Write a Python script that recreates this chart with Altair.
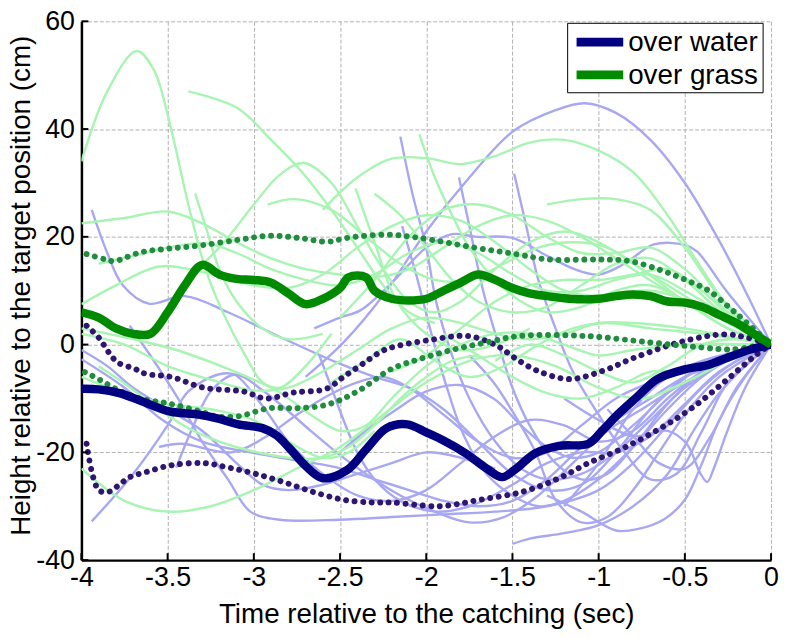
import altair as alt
import pandas as pd

# ---------------- data ----------------
# thick mean lines
water_mean_t = [-4.0, -3.9, -3.78, -3.65, -3.49, -3.32, -3.2, -3.09, -2.95, -2.87, -2.8, -2.7, -2.6, -2.46, -2.35, -2.23, -2.11, -2.0, -1.9, -1.77, -1.65, -1.56, -1.47, -1.37, -1.23, -1.06, -0.98, -0.89, -0.78, -0.66, -0.5, -0.37, -0.25, -0.12, 0.0]
water_mean_v = [-8.2, -8.3, -9.0, -10.5, -12.4, -13.0, -13.8, -14.8, -15.5, -16.8, -19.0, -22.5, -24.8, -23.3, -19.5, -15.5, -14.8, -16.3, -17.8, -20.2, -23.0, -24.6, -22.8, -20.2, -18.8, -18.4, -16.0, -13.0, -9.8, -6.4, -4.6, -3.8, -2.4, -0.9, 0.0]
grass_mean_t = [-4.0, -3.9, -3.8, -3.7, -3.6, -3.5, -3.4, -3.3, -3.2, -3.1, -3.0, -2.9, -2.8, -2.7, -2.6, -2.5, -2.45, -2.35, -2.3, -2.2, -2.1, -2.0, -1.9, -1.8, -1.7, -1.6, -1.5, -1.4, -1.3, -1.2, -1.1, -1.0, -0.9, -0.8, -0.7, -0.6, -0.5, -0.4, -0.3, -0.2, -0.1, 0.0]
grass_mean_v = [6.0, 5.0, 3.0, 2.0, 2.0, 6.0, 11.0, 14.8, 13.0, 12.2, 12.0, 11.5, 9.5, 7.5, 8.5, 10.5, 12.5, 12.5, 10.0, 8.5, 8.2, 8.5, 10.0, 11.5, 13.0, 12.0, 10.5, 9.5, 9.0, 8.6, 8.4, 8.5, 9.0, 9.3, 9.0, 8.0, 7.8, 7.0, 5.5, 4.0, 2.0, 0.0]

# dotted (mean +/- sd) lines
water_hi_t = [-3.97, -3.9, -3.84, -3.79, -3.69, -3.63, -3.48, -3.29, -3.06, -2.93, -2.77, -2.58, -2.48, -2.37, -2.25, -2.16, -1.97, -1.76, -1.59, -1.49, -1.36, -1.17, -0.97, -0.79, -0.5, -0.27, -0.14, 0.0]
water_hi_v = [3.5, 1.3, -1.5, -3.3, -4.5, -5.4, -6.0, -8.0, -8.7, -10.0, -8.9, -8.2, -6.0, -3.6, -1.1, -0.2, 0.9, 1.6, -0.2, -2.4, -4.8, -6.4, -4.8, -2.4, 0.7, 1.9, 1.3, 0.0]
water_lo_t = [-3.97, -3.9, -3.84, -3.78, -3.72, -3.63, -3.48, -3.29, -3.15, -3.0, -2.83, -2.66, -2.48, -2.31, -2.2, -1.92, -1.69, -1.44, -1.23, -1.06, -0.85, -0.64, -0.46, -0.27, -0.09, 0.0]
water_lo_v = [-18.4, -27.0, -27.3, -26.0, -24.6, -23.7, -22.4, -22.0, -22.8, -23.9, -25.5, -27.3, -28.8, -29.3, -29.3, -30.0, -28.8, -27.3, -24.8, -22.0, -19.1, -15.5, -11.8, -6.9, -2.0, 0.0]
grass_hi_t = [-3.97, -3.86, -3.81, -3.66, -3.5, -3.31, -3.08, -2.91, -2.74, -2.57, -2.46, -2.23, -2.04, -1.72, -1.48, -1.29, -0.98, -0.82, -0.63, -0.48, -0.36, -0.25, -0.16, 0.0]
grass_hi_v = [16.8, 15.8, 15.5, 17.1, 17.8, 18.4, 19.5, 20.2, 19.8, 19.1, 19.8, 20.4, 19.8, 18.0, 16.8, 15.8, 15.8, 15.5, 13.7, 11.8, 10.0, 7.1, 4.6, 0.0]
grass_lo_t = [-3.98, -3.89, -3.8, -3.66, -3.5, -3.31, -3.22, -3.09, -2.91, -2.74, -2.57, -2.4, -2.2, -2.04, -1.84, -1.65, -1.46, -1.08, -0.7, -0.41, -0.22, -0.08, 0.0]
grass_lo_v = [-5.1, -6.6, -8.2, -10.0, -10.9, -12.4, -13.3, -13.3, -11.8, -11.8, -11.1, -8.7, -4.5, -2.7, -0.9, 0.4, 1.6, 1.6, 0.4, -0.5, -0.9, -0.2, 0.0]

# individual flights over water (light blue), each a list of (time, height)
w01 = [(-2.7, -6), (-2.48, 0.4), (-2.23, 10), (-2.0, 21), (-1.75, 31), (-1.5, 39.5), (-1.25, 43.5), (-1.08, 44.8), (-0.9, 43), (-0.7, 38), (-0.5, 30), (-0.31, 19.8), (-0.15, 10), (0, 0)]
w02 = [(-2.65, 3), (-2.5, 5), (-2.38, 6.4), (-2.19, 11.8), (-2.0, 18), (-1.85, 20.5), (-1.71, 20), (-1.5, 19.8), (-1.3, 16.5), (-1.14, 14), (-1.0, 13), (-0.85, 15), (-0.68, 18.6), (-0.5, 18.5), (-0.43, 17.3), (-0.26, 10), (0, 0)]
w03 = [(-3.94, 25), (-3.85, 17), (-3.76, 11), (-3.61, 7.6), (-3.4, 9), (-3.15, 6), (-2.86, 1.6), (-2.52, -3.3), (-2.3, -6), (-2.1, -8), (-1.9, -12), (-1.7, -18), (-1.5, -24), (-1.3, -27), (-1.1, -26), (-0.9, -20), (-0.7, -12), (-0.5, -6), (-0.25, -2), (0, 0)]
w04 = [(-3.94, -32.8), (-3.7, -24), (-3.5, -15), (-3.38, -8.7), (-3.2, -5.5), (-3.11, -5.6), (-2.94, -11.8), (-2.8, -18), (-2.6, -24), (-2.4, -28), (-2.2, -29), (-2.0, -27), (-1.8, -22), (-1.6, -17), (-1.4, -14), (-1.2, -15), (-1.0, -18), (-0.8, -16), (-0.6, -10), (-0.4, -5), (-0.2, -2), (0, 0)]
w05 = [(-4, -2.7), (-3.75, -8), (-3.53, -14), (-3.3, -18), (-3.02, -20), (-2.75, -21.5), (-2.52, -22.8), (-2.3, -25), (-2.1, -27), (-1.9, -29), (-1.7, -30), (-1.5, -29), (-1.3, -25), (-1.1, -19), (-0.9, -14), (-0.7, -10), (-0.5, -6), (-0.25, -3), (0, 0)]
w06 = [(-3.72, 3.5), (-3.58, -3), (-3.44, -10), (-3.3, -18), (-3.15, -25), (-3.02, -31), (-2.85, -32.5), (-2.5, -32.5), (-2.2, -32), (-1.9, -31.5), (-1.6, -31), (-1.3, -30), (-1.0, -27), (-0.8, -22), (-0.6, -15), (-0.4, -8), (-0.2, -3), (0, 0)]
w07 = [(-3.55, -19), (-3.42, -18.4), (-3.13, -20), (-2.94, -17.3), (-2.75, -13), (-2.56, -9.3), (-2.4, -7), (-2.25, -6), (-2.1, -8), (-1.9, -13), (-1.7, -18), (-1.5, -21), (-1.3, -20), (-1.1, -15), (-0.9, -10), (-0.7, -7), (-0.4, -3), (0, 0)]
w08 = [(-3.45, -22.8), (-3.35, -15), (-3.25, -8.7), (-3.11, -5.6), (-2.94, -8.7), (-2.67, -16), (-2.52, -20), (-2.35, -24), (-2.15, -28), (-1.95, -31), (-1.75, -33), (-1.55, -32), (-1.35, -28), (-1.15, -22), (-0.95, -16), (-0.75, -12), (-0.5, -7), (-0.25, -3), (0, 0)]
w09 = [(-4, -1), (-3.85, -4), (-3.7, -8), (-3.5, -12), (-3.3, -16), (-3.1, -22), (-2.95, -26), (-2.8, -27), (-2.6, -26), (-2.4, -24), (-2.2, -22), (-2.0, -20), (-1.8, -21), (-1.6, -23)]
w10 = [(-2.15, 38.6), (-2.08, 28), (-2.0, 18), (-1.94, 7.6), (-1.85, -2), (-1.75, -10), (-1.6, -18), (-1.45, -23), (-1.3, -25), (-1.1, -24), (-0.9, -20), (-0.7, -14), (-0.5, -8), (-0.25, -3), (0, 0)]
w11 = [(-1.81, 31), (-1.75, 22), (-1.67, 10), (-1.58, 0), (-1.5, -8), (-1.4, -15), (-1.25, -22), (-1.1, -25), (-0.95, -24), (-0.8, -19), (-0.6, -11), (-0.4, -5), (-0.2, -2), (0, 0)]
w12 = [(-1.49, 31.7), (-1.42, 22), (-1.35, 12), (-1.25, 3), (-1.15, -5), (-1.0, -13), (-0.85, -20), (-0.7, -25), (-0.55, -24), (-0.4, -16), (-0.25, -7), (0, 0)]
w13 = [(-2.14, 22), (-2.05, 12), (-1.97, 2), (-1.88, -8), (-1.78, -17), (-1.65, -24), (-1.5, -28), (-1.35, -30), (-1.2, -29), (-1.0, -25), (-0.8, -19), (-0.6, -12), (-0.4, -6), (-0.2, -2), (0, 0)]
w14 = [(-1.5, -37), (-1.4, -36), (-1.2, -35), (-1.0, -33.5), (-0.8, -30), (-0.6, -24), (-0.45, -16), (-0.3, -9), (-0.15, -4), (0, 0)]
w15 = [(-1.3, -28), (-1.1, -31), (-0.9, -34.5), (-0.77, -34.2), (-0.62, -32.4), (-0.5, -28.8), (-0.4, -22), (-0.3, -14), (-0.15, -6), (0, 0)]
w16 = [(-1.2, -10), (-1.0, -14), (-0.8, -17), (-0.6, -16), (-0.49, -18.4), (-0.41, -23.9), (-0.37, -25.5), (-0.33, -22.8), (-0.26, -16.6), (-0.15, -8), (0, 0)]
w17 = [(-1.75, -2), (-1.61, -7), (-1.5, -12.4), (-1.37, -19.7), (-1.25, -28.8), (-1.1, -33), (-0.95, -32), (-0.8, -27), (-0.65, -20), (-0.5, -13), (-0.3, -6), (0, 0)]
w18 = [(-2.5, -20), (-2.35, -16), (-2.19, -12.4), (-2.0, -8.7), (-1.81, -7.5), (-1.61, -10), (-1.45, -15), (-1.3, -19), (-1.15, -21), (-1.0, -20), (-0.8, -15), (-0.6, -9), (-0.4, -4), (0, 0)]
w19 = [(-2.62, -2), (-2.55, -8), (-2.48, -14), (-2.4, -20), (-2.3, -25), (-2.15, -29), (-1.95, -31), (-1.75, -30), (-1.5, -26), (-1.3, -22), (-1.1, -20), (-0.9, -20), (-0.7, -17), (-0.5, -11), (-0.3, -5), (0, 0)]
w20 = [(-1.2, -30), (-1.0, -22), (-0.8, -12), (-0.6, -6), (-0.45, -4), (-0.3, -3), (0, 0)]
w21 = [(-0.95, -12), (-0.8, -17), (-0.65, -22), (-0.5, -23), (-0.35, -17), (-0.2, -8), (0, 0)]

# individual flights over grass (light green)
g01 = [(-4, 34), (-3.85, 47), (-3.68, 54.5), (-3.58, 51), (-3.48, 40), (-3.38, 26), (-3.28, 14), (-3.18, 6), (-3.05, -2), (-2.95, -7), (-2.85, -8), (-2.7, -4), (-2.55, 2)]
g02 = [(-3.38, 47), (-3.1, 44), (-2.9, 38), (-2.72, 32), (-2.55, 25), (-2.4, 18), (-2.25, 11), (-2.1, 6), (-1.95, 4)]
g03 = [(-4, 22.5), (-3.75, 23.5), (-3.5, 24.7), (-3.3, 22.5), (-3.1, 19), (-2.9, 16), (-2.7, 14), (-2.5, 13), (-2.3, 12.5), (-2.1, 14), (-1.9, 18), (-1.7, 22), (-1.5, 24), (-1.3, 23), (-1.1, 20), (-0.9, 16), (-0.6, 10), (-0.3, 5), (0, 0)]
g04 = [(-4, 7.5), (-3.8, 11), (-3.55, 14.5), (-3.3, 13.5), (-3.0, 11), (-2.8, 10.5), (-2.6, 13), (-2.4, 18), (-2.2, 22), (-2.0, 24), (-1.8, 23), (-1.6, 19), (-1.4, 14), (-1.2, 10), (-1.0, 9), (-0.7, 10), (-0.4, 7), (0, 0)]
g05 = [(-3.9, 15), (-3.7, 16.5), (-3.5, 18), (-3.28, 18.8), (-3.1, 17), (-2.9, 14), (-2.7, 12), (-2.5, 11), (-2.3, 13), (-2.1, 17), (-1.9, 19), (-1.7, 17), (-1.5, 13), (-1.3, 10), (-1.1, 10), (-0.9, 12), (-0.7, 13), (-0.5, 10), (-0.25, 5), (0, 0)]
g06 = [(-3.4, 12), (-3.2, 18), (-3.0, 26), (-2.85, 31.5), (-2.71, 33.7), (-2.55, 30), (-2.4, 22), (-2.25, 14), (-2.1, 8), (-1.95, 6), (-1.8, 8), (-1.6, 14), (-1.4, 19), (-1.2, 21), (-1.0, 19), (-0.8, 15), (-0.5, 9), (-0.25, 4), (0, 0)]
g07 = [(-2.92, 26), (-2.76, 27), (-2.55, 25), (-2.35, 20), (-2.15, 15), (-1.95, 12), (-1.75, 12), (-1.55, 15), (-1.35, 18), (-1.15, 19), (-0.95, 18), (-0.75, 14), (-0.5, 8), (-0.25, 3), (0, 0)]
g08 = [(-2.6, 25), (-2.4, 31), (-2.2, 34.5), (-2.0, 34.6), (-1.8, 33.5), (-1.6, 35), (-1.4, 37.5), (-1.2, 38), (-1.0, 36), (-0.8, 32), (-0.6, 24), (-0.4, 14), (-0.2, 5), (0, 0)]
g09 = [(-2.04, 39), (-1.95, 31), (-1.85, 24), (-1.75, 18), (-1.6, 12), (-1.45, 8), (-1.3, 6), (-1.1, 7), (-0.9, 10), (-0.7, 11), (-0.5, 8), (-0.25, 3), (0, 0)]
g10 = [(-1.3, 26), (-1.1, 27), (-0.9, 27), (-0.7, 25), (-0.5, 18), (-0.3, 9), (0, 0)]
g11 = [(-4, -23), (-3.75, -29), (-3.5, -31), (-3.25, -30), (-3.0, -27), (-2.75, -23), (-2.5, -19), (-2.25, -13), (-2.0, -7), (-1.75, -3), (-1.5, -2), (-1.25, -4), (-1.0, -8), (-0.75, -10), (-0.5, -7), (-0.25, -3), (0, 0)]
g12 = [(-4, 2), (-3.75, 0), (-3.5, -4), (-3.25, -6.5), (-3.0, -8.5), (-2.8, -8), (-2.6, -5), (-2.4, -1), (-2.2, 3), (-2.0, 5), (-1.8, 4), (-1.6, 2), (-1.4, 1), (-1.2, 2), (-1.0, 4), (-0.8, 4), (-0.5, 3), (-0.25, 1.5), (0, 0)]
g13 = [(-4, 3), (-3.7, 1), (-3.45, -1), (-3.15, -4.5), (-2.86, -8.7), (-2.67, -13), (-2.5, -16), (-2.35, -15), (-2.2, -10), (-2.0, -4), (-1.8, 0), (-1.6, 2), (-1.4, 2), (-1.2, 0), (-1.0, -2), (-0.8, -1), (-0.5, 0), (0, 0)]
g14 = [(-3.9, -4), (-3.76, -7), (-3.55, -12), (-3.38, -15.5), (-3.2, -18), (-3.02, -19.7), (-2.8, -21), (-2.6, -21), (-2.45, -19), (-2.3, -15), (-2.15, -10), (-2.0, -6), (-1.85, -3), (-1.7, -2)]
g15 = [(-2.5, 5), (-2.3, 12), (-2.1, 20), (-1.9, 25), (-1.7, 26), (-1.5, 24), (-1.3, 20), (-1.1, 17), (-0.9, 17), (-0.7, 18), (-0.5, 14), (-0.25, 6), (0, 0)]
g16 = [(-2.3, 28), (-2.15, 24), (-2.0, 18), (-1.85, 12), (-1.7, 8), (-1.5, 6), (-1.3, 7), (-1.1, 11), (-0.9, 15), (-0.7, 16), (-0.5, 12), (-0.25, 5), (0, 0)]
g17 = [(-2.2, -5), (-2.0, -2), (-1.8, 3), (-1.6, 8), (-1.4, 11), (-1.2, 12), (-1.0, 12), (-0.8, 13), (-0.6, 14), (-0.4, 10), (-0.2, 4), (0, 0)]
g18 = [(-1.9, 2), (-1.7, -2), (-1.5, -6), (-1.3, -9), (-1.1, -10), (-0.9, -8), (-0.7, -5), (-0.5, -5), (-0.3, -3), (0, 0)]
g19 = [(-1.6, -3), (-1.4, 0), (-1.2, -2), (-1.0, -5), (-0.8, -7), (-0.6, -4), (-0.4, 0), (-0.2, 1), (0, 0)]
g20 = [(-2.55, -7), (-2.35, -3), (-2.15, 1), (-1.95, -3), (-1.75, -6), (-1.55, -4), (-1.35, 0), (-1.15, 3), (-0.95, 4), (-0.7, 3), (-0.4, 2), (0, 0)]
g21 = [(-2.41, 29), (-2.3, 19), (-2.17, 8), (-2.0, 2), (-1.8, -1), (-1.6, 0), (-1.4, 3)]
g22 = [(-3.34, 28), (-3.28, 22), (-3.2, 14), (-3.1, 8), (-2.95, 3), (-2.8, 1), (-2.6, 2)]
g23 = [(-4, -6), (-3.75, -9), (-3.5, -11), (-3.25, -12), (-3.0, -14), (-2.8, -18), (-2.6, -21), (-2.45, -20), (-2.3, -16)]

water_traces = [w01, w02, w03, w04, w05, w06, w07, w08, w09, w10, w11, w12, w13, w14, w15, w16, w17, w18, w19, w20, w21]
grass_traces = [g01, g02, g03, g04, g05, g06, g07, g08, g09, g10, g11, g12, g13, g14, g15, g16, g17, g18, g19, g20, g21, g22, g23]

groups = ["over water", "over grass"]
x_ticks = [-4, -3.5, -3, -2.5, -2, -1.5, -1, -0.5, 0]
y_ticks = [-40, -20, 0, 20, 40, 60]

# ---------------- styling ----------------
FONT = "Liberation Sans"
NAVY = "#000080"
GREEN = "#008a00"
LIGHT_BLUE = "#a8a8f2"
LIGHT_GREEN = "#a8f4b2"
DOT_NAVY = "#2e1670"
DOT_GREEN = "#1f8c3e"
W, H = 695, 543


def traces_df(traces, prefix):
    rows = []
    for i, tr in enumerate(traces):
        for t, v in tr:
            rows.append({"id": f"{prefix}{i}", "t": t, "v": v})
    return pd.DataFrame(rows)


def series_df(pairs):
    rows = []
    for name, (ts, vs) in pairs.items():
        for t, v in zip(ts, vs):
            rows.append({"id": name, "t": t, "v": v})
    return pd.DataFrame(rows)


xscale = alt.Scale(domain=[-4, 0], nice=False, zero=False)
yscale = alt.Scale(domain=[-40, 60], nice=False, zero=False)

xaxis = alt.Axis(
    values=x_ticks, labelExpr="'' + datum.value",
    title="Time relative to the catching (sec)",
    tickSize=0, ticks=False, labelPadding=5, labelFlush=False, labelOverlap=False,
    labelFont=FONT, labelFontSize=27, labelColor="black",
    titleFont=FONT, titleFontSize=28, titleFontWeight="normal", titleColor="black",
    titleY=41,
    domainColor="black", domainWidth=2.5,
    grid=True, gridColor="#b0b0b0", gridDash=[4, 2], gridWidth=1,
)
yaxis = alt.Axis(
    values=y_ticks, labelExpr="'' + datum.value",
    title="Height relative to the target position (cm)",
    tickSize=0, ticks=False, labelPadding=7, labelFlush=False, labelOverlap=False,
    labelFont=FONT, labelFontSize=27, labelColor="black",
    titleFont=FONT, titleFontSize=28, titleFontWeight="normal", titleColor="black",
    titleX=-46, titleY=266,
    domainColor="black", domainWidth=2.5,
    grid=True, gridColor="#b0b0b0", gridDash=[4, 2], gridWidth=1,
)

X = alt.X("t:Q", scale=xscale, axis=xaxis)
Y = alt.Y("v:Q", scale=yscale, axis=yaxis)

thin_water = alt.Chart(traces_df(water_traces, "w")).mark_line(
    color=LIGHT_BLUE, strokeWidth=2.4, interpolate="catmull-rom", clip=True
).encode(x=X, y=Y, detail="id:N")

thin_grass = alt.Chart(traces_df(grass_traces, "g")).mark_line(
    color=LIGHT_GREEN, strokeWidth=2.4, interpolate="catmull-rom", clip=True
).encode(x=X, y=Y, detail="id:N")

dots_water = alt.Chart(series_df({"hi": (water_hi_t, water_hi_v), "lo": (water_lo_t, water_lo_v)})).mark_line(
    color=DOT_NAVY, strokeWidth=6, strokeCap="round", strokeDash=[0.01, 8.6],
    interpolate="catmull-rom", clip=True
).encode(x=X, y=Y, detail="id:N")

dots_grass = alt.Chart(series_df({"hi": (grass_hi_t, grass_hi_v), "lo": (grass_lo_t, grass_lo_v)})).mark_line(
    color=DOT_GREEN, strokeWidth=6, strokeCap="round", strokeDash=[0.01, 8.6],
    interpolate="catmull-rom", clip=True
).encode(x=X, y=Y, detail="id:N")

means = alt.Chart(series_df({groups[0]: (water_mean_t, water_mean_v),
                             groups[1]: (grass_mean_t, grass_mean_v)})).mark_line(
    strokeWidth=8.5, interpolate="catmull-rom", clip=True
).encode(
    x=X, y=Y,
    color=alt.Color("id:N", scale=alt.Scale(domain=groups, range=[NAVY, GREEN]), legend=None),
)

# inward tick marks (MATLAB style)
xtick_layer = alt.Chart(pd.DataFrame({"t": x_ticks})).mark_rule(color="black", strokeWidth=2).encode(
    x=X, y=alt.value(H), y2=alt.value(H - 7))
ytick_layer = alt.Chart(pd.DataFrame({"v": y_ticks})).mark_rule(color="black", strokeWidth=2).encode(
    y=Y, x=alt.value(0), x2=alt.value(7))

# legend box (drawn like the MATLAB legend)
leg_box = alt.Chart(pd.DataFrame({"a": [0]})).mark_rect(
    fill="white", stroke="black", strokeWidth=1
).encode(x=alt.value(490), x2=alt.value(687), y=alt.value(2), y2=alt.value(72))
leg_df = pd.DataFrame({"label": groups, "ypos": [21, 54], "col": [NAVY, GREEN]})
leg_lines = alt.Chart(leg_df).mark_rule(strokeWidth=9).encode(
    x=alt.value(499), x2=alt.value(546), y=alt.Y("ypos:Q", scale=None),
    color=alt.Color("col:N", scale=None))
leg_text = alt.Chart(leg_df).mark_text(
    align="left", baseline="middle", font=FONT, fontSize=28, color="black", dy=1
).encode(x=alt.value(551), y=alt.Y("ypos:Q", scale=None), text="label:N")

chart = alt.layer(
    thin_water, thin_grass, dots_water, dots_grass, means,
    xtick_layer, ytick_layer, leg_box, leg_lines, leg_text
).properties(
    width=W, height=H,
    autosize=alt.AutoSizeParams(type="none"),
    padding={"left": 74, "top": 11, "right": 8, "bottom": 68},
    background="white",
).configure_view(strokeWidth=0)

chart.save("out.html", embed_options={"renderer": "svg", "actions": False})
